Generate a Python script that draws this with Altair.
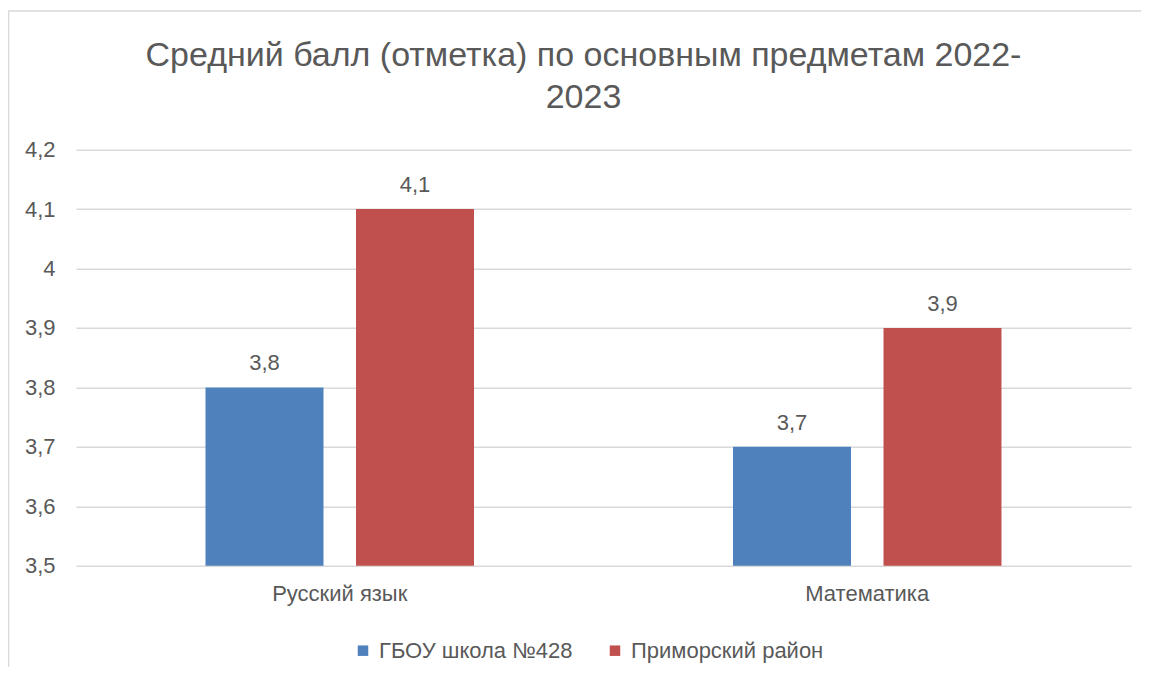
import altair as alt
import pandas as pd

subjects = ["Русский язык", "Математика"]
series_names = ["ГБОУ школа №428", "Приморский район"]
school_values = [3.8, 3.7]
district_values = [4.1, 3.9]
y_ticks = [3.5, 3.6, 3.7, 3.8, 3.9, 4.0, 4.1, 4.2]
colors = ["#4F81BD", "#C0504D"]
title_lines = ["Средний балл (отметка) по основным предметам 2022-", "2023"]

rows = []
for i, s in enumerate(subjects):
    rows.append({"subject": s, "series": series_names[0], "value": school_values[i]})
    rows.append({"subject": s, "series": series_names[1], "value": district_values[i]})
df = pd.DataFrame(rows)

FONT = "Liberation Sans"
GRAY = "#595959"
GRID = "#D9D9D9"
W, H = 1055, 416
FS = 22

x = alt.X(
    "subject:N", sort=subjects,
    scale=alt.Scale(paddingInner=0.491, paddingOuter=0.2455),
    axis=alt.Axis(title=None, labelAngle=0, domain=False, ticks=False, labelPadding=18,
                  labelFont=FONT, labelFontSize=FS, labelColor=GRAY, grid=False),
)
xo = alt.XOffset("series:N", sort=series_names,
                 scale=alt.Scale(paddingInner=0.216, paddingOuter=0))
y = alt.Y(
    "value:Q",
    scale=alt.Scale(domain=[3.5, 4.2], zero=False, nice=False),
    axis=alt.Axis(title=None, values=y_ticks, domain=False, ticks=False, labelPadding=21,
                  labelFont=FONT, labelFontSize=FS, labelColor=GRAY,
                  labelExpr="replace(format(datum.value, '~g'), '.', ',')",
                  grid=True, gridColor=GRID, gridWidth=1.5),
)
color = alt.Color(
    "series:N", sort=series_names,
    scale=alt.Scale(domain=series_names, range=colors),
    legend=alt.Legend(title=None, orient="none", legendX=276, legendY=490, direction="horizontal",
                      symbolType="square", symbolSize=110, symbolStrokeWidth=0,
                      labelFont=FONT, labelFontSize=FS, labelColor=GRAY, labelLimit=0,
                      columnPadding=31, labelOffset=5),
)

base = alt.Chart(df)
bars = base.mark_bar().encode(x=x, xOffset=xo, y=y, y2=alt.datum(3.5), color=color)
labels = base.transform_calculate(
    label="replace(format(datum.value, '.1f'), '.', ',')"
).mark_text(font=FONT, fontSize=FS, color=GRAY, baseline="alphabetic", dy=-17).encode(
    x=x, xOffset=xo, y=y, text="label:N"
)

frame_df = pd.DataFrame({"k": [0]})
title_mark = alt.Chart(frame_df).mark_text(
    text=title_lines, font=FONT, fontSize=34, color=GRAY, align="center",
    baseline="alphabetic", lineHeight=42
).encode(x=alt.value(W / 2 - 20), y=alt.value(-83.7))
top_border = alt.Chart(frame_df).mark_rule(color=GRID, strokeWidth=1.5).encode(
    x=alt.value(-68), x2=alt.value(W + 20), y=alt.value(-138.7)
)
left_border = alt.Chart(frame_df).mark_rule(color=GRID, strokeWidth=1.5).encode(
    x=alt.value(-67.5), y=alt.value(-138.7), y2=alt.value(H + 120)
)

chart = alt.layer(bars, labels, title_mark, top_border, left_border).properties(
    width=W, height=H,
    padding={"left": 68, "top": 141.7, "right": 10, "bottom": 101},
    autosize="none",
).configure_view(stroke=None)

chart.save("out.html", embed_options={"renderer": "svg", "actions": False})
